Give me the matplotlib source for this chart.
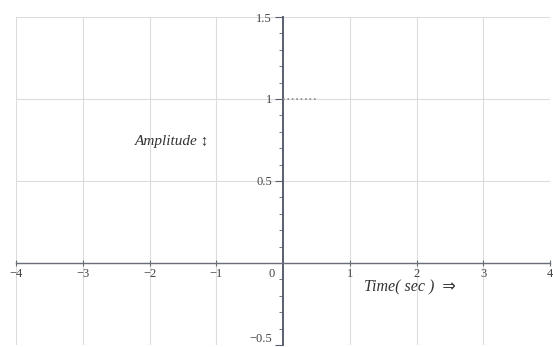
import numpy as np
import matplotlib.pyplot as plt

# signal segment drawn on the time axis
time_sec = [0, 0.5]
amplitude = [1, 1]

x_ticks = [-4, -3, -2, -1, 1, 2, 3, 4]
x_labels = ["\u22124", "\u22123", "\u22122", "\u22121", "1", "2", "3", "4"]
y_ticks = [-0.5, 0.5, 1, 1.5]
y_labels = ["\u22120.5", "0.5", "1", "1.5"]

plt.rcParams['font.family'] = ['Liberation Serif', 'DejaVu Sans']

fig = plt.figure(figsize=(5.53, 3.47), dpi=100)
ax = fig.add_axes([0.029, 0.006, 0.966, 0.945])

ax.set_xlim(-4, 4)
ax.set_ylim(-0.5, 1.5)

# grid at every unit of time and every half amplitude
for gx in range(-4, 5):
    ax.axvline(gx, color='#dcdcdc', lw=0.8, zorder=0)
for gy in [-0.5, 0, 0.5, 1, 1.5]:
    ax.axhline(gy, color='#dcdcdc', lw=0.8, zorder=0)

ax.plot(time_sec, amplitude, color='#8a8a8a', lw=1.2, ls=':', zorder=3)

# axes through the origin
for side in ['top', 'right']:
    ax.spines[side].set_visible(False)
ax.spines['left'].set_position(('data', 0))
ax.spines['bottom'].set_position(('data', 0))
ax.spines['left'].set_color('#5a5f70')
ax.spines['bottom'].set_color('#6a6e7a')
ax.spines['left'].set_linewidth(1.4)
ax.spines['bottom'].set_linewidth(1.0)

ax.set_xticks(x_ticks)
ax.set_xticklabels(x_labels)
ax.set_yticks(y_ticks)
ax.set_yticklabels(y_labels)
ax.set_yticks(np.arange(-0.5, 1.51, 0.1), minor=True)
ax.tick_params(axis='x', direction='inout', length=5, color='#6a6e7a',
               labelsize=9, labelcolor='#444444', pad=1)
ax.tick_params(axis='y', which='major', direction='out', length=6, color='#5a5f70',
               labelsize=9, labelcolor='#444444', pad=2)
ax.tick_params(axis='y', which='minor', direction='out', length=3, color='#5a5f70')
# keep the lowest label inside the figure
ax.get_yticklabels()[0].set_va('bottom')

ax.text(-0.12, -0.03, "0", ha='right', va='top', fontsize=9, color='#444444')

ax.text(-1.66, 0.74, "Amplitude \u2195", fontsize=11, style='italic',
        color='#333333', ha='center', va='center')
ax.text(1.9, -0.15, "Time( sec )  \u21d2", fontsize=11.5, style='italic',
        color='#333333', ha='center', va='center')

fig.savefig("out.png", dpi=100, facecolor='white')
